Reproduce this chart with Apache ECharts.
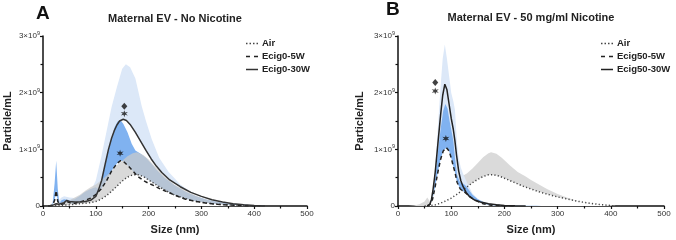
<!DOCTYPE html>
<html><head><meta charset="utf-8">
<script src="https://cdn.jsdelivr.net/npm/echarts@6/dist/echarts.min.js"></script>
<style>html,body{margin:0;padding:0;background:#fff}#c{width:676px;height:240px}</style>
</head><body><div id="c"></div>
<script>
// ---- axis ticks ----
const xTicks = [0, 100, 200, 300, 400, 500];
const yTicks = [0, 1, 2, 3]; // units of 1e9 particles/mL

// ---- Panel A (No Nicotine), values in 1e9 particles/mL ----
const aAirMean = [[10,0],[20,0.005],[30,0.01],[40,0.015],[50,0.02],[60,0.03],[70,0.04],[80,0.05],[90,0.06],[100,0.08],[110,0.12],[120,0.18],[130,0.26],[140,0.35],[150,0.44],[160,0.51],[170,0.55],[180,0.55],[190,0.52],[200,0.46],[210,0.4],[220,0.34],[235,0.26],[250,0.19],[260,0.16],[270,0.13],[280,0.1],[300,0.065],[320,0.04],[340,0.025],[360,0.014],[380,0.007],[400,0.002],[410,0]];
const aAirUpper = [[10,0],[20,0.02],[30,0.05],[40,0.08],[50,0.1],[60,0.15],[70,0.2],[80,0.27],[90,0.33],[100,0.38],[110,0.45],[120,0.53],[130,0.62],[140,0.72],[150,0.8],[160,0.88],[170,0.93],[178,0.95],[190,0.9],[200,0.82],[210,0.72],[220,0.62],[235,0.48],[250,0.37],[265,0.3],[280,0.22],[300,0.14],[320,0.09],[340,0.055],[360,0.03],[380,0.015],[400,0.005],[410,0]];
const a5wMean = [[10,0],[18,0.01],[22,0.1],[25,0.27],[28,0.08],[32,0.03],[40,0.04],[45,0.08],[50,0.06],[55,0.04],[60,0.05],[70,0.07],[80,0.1],[90,0.14],[100,0.2],[110,0.3],[120,0.44],[130,0.62],[140,0.75],[147,0.8],[152,0.79],[160,0.72],[170,0.62],[180,0.52],[190,0.45],[200,0.4],[210,0.36],[220,0.31],[235,0.25],[250,0.19],[270,0.12],[290,0.08],[310,0.05],[330,0.03],[350,0.018],[370,0.01],[390,0.004],[410,0]];
const a5wUpper = [[10,0],[18,0.02],[22,0.4],[25,0.8],[28,0.3],[31,0.05],[35,0.1],[40,0.12],[50,0.1],[60,0.12],[70,0.18],[80,0.25],[90,0.3],[100,0.33],[105,0.3],[111,0.44],[118,0.74],[124,0.99],[130,1.2],[136,1.4],[142,1.5],[148,1.5],[152,1.45],[160,1.3],[168,1.1],[175,0.98],[185,0.92],[195,0.85],[205,0.75],[215,0.64],[230,0.5],[250,0.36],[270,0.25],[290,0.17],[310,0.11],[330,0.07],[350,0.045],[370,0.03],[390,0.018],[410,0.008],[420,0]];
const a30wMean = [[10,0],[20,0.02],[25,0.04],[30,0.03],[40,0.06],[45,0.1],[50,0.08],[60,0.07],[70,0.07],[80,0.08],[90,0.1],[100,0.17],[105,0.28],[111,0.45],[118,0.75],[124,1.0],[130,1.2],[135,1.33],[140,1.43],[145,1.5],[152,1.53],[158,1.51],[165,1.44],[175,1.3],[185,1.14],[195,0.98],[205,0.83],[215,0.7],[225,0.59],[240,0.46],[260,0.34],[280,0.24],[300,0.17],[320,0.11],[340,0.07],[360,0.04],[380,0.02],[400,0.008],[420,0]];
const a30wUpper = [[10,0],[15,0.02],[20,0.1],[25,0.25],[30,0.1],[35,0.15],[40,0.17],[50,0.15],[60,0.14],[70,0.17],[80,0.2],[90,0.25],[100,0.45],[110,0.85],[120,1.3],[130,1.75],[140,2.1],[150,2.42],[157,2.5],[165,2.45],[175,2.25],[187,1.76],[195,1.5],[206,1.18],[220,0.85],[238,0.6],[260,0.38],[280,0.25],[300,0.17],[320,0.11],[340,0.07],[360,0.045],[380,0.025],[400,0.01],[420,0]];
const aDiamond = [[154,1.76]];
const aStars = [[154,1.63],[146,0.93]];

// ---- Panel B (50 mg/ml Nicotine) ----
const bAirMean = [[50,0],[60,0.005],[70,0.02],[80,0.05],[90,0.09],[100,0.14],[110,0.2],[120,0.27],[130,0.34],[140,0.41],[150,0.47],[160,0.52],[170,0.55],[180,0.55],[190,0.53],[200,0.49],[210,0.45],[220,0.41],[235,0.35],[250,0.3],[265,0.25],[280,0.21],[300,0.16],[320,0.12],[340,0.08],[360,0.05],[380,0.025],[400,0.008],[410,0]];
const bAirUpper = [[20,0],[30,0.01],[40,0.03],[50,0.08],[55,0.15],[60,0.08],[66,0.12],[75,0.22],[85,0.33],[98,0.42],[110,0.48],[120,0.52],[130,0.58],[140,0.66],[150,0.76],[160,0.86],[170,0.93],[175,0.95],[185,0.92],[195,0.85],[210,0.72],[225,0.6],[240,0.52],[250,0.46],[265,0.38],[280,0.3],[300,0.21],[320,0.14],[340,0.08],[360,0.045],[380,0.02],[400,0.005],[410,0]];
const b5wMean = [[55,0],[60,0.03],[65,0.12],[70,0.35],[75,0.6],[80,0.82],[85,0.97],[91,1.03],[96,0.97],[100,0.85],[104,0.7],[107,0.6],[111,0.42],[117,0.3],[121,0.27],[126,0.24],[132,0.19],[140,0.13],[148,0.09],[160,0.04],[175,0.015],[200,0.005],[220,0]];
const b5wUpper = [[55,0],[60,0.03],[65,0.15],[70,0.5],[75,0.95],[80,1.35],[85,1.68],[89,1.8],[93,1.72],[97,1.5],[101,1.3],[104,1.15],[107,0.85],[111,0.55],[116,0.43],[121,0.4],[126,0.37],[132,0.3],[140,0.2],[150,0.12],[160,0.07],[170,0.04],[180,0.025],[200,0.012],[230,0.006],[260,0.003],[270,0]];
const b30wMean = [[55,0],[60,0.03],[63,0.12],[66,0.3],[70,0.6],[75,1.1],[80,1.6],[84,1.95],[88,2.15],[92,2.05],[96,1.8],[100,1.55],[104,1.35],[107,1.15],[110,0.9],[114,0.62],[118,0.45],[122,0.35],[128,0.24],[135,0.16],[145,0.1],[155,0.07],[170,0.04],[185,0.02],[200,0.01],[220,0.003],[240,0]];
const b30wUpper = [[55,0],[60,0.05],[65,0.2],[70,0.7],[75,1.4],[80,2.1],[84,2.6],[88,2.85],[92,2.6],[96,2.3],[100,2.0],[104,1.85],[107,1.7],[109,1.4],[111,1.1],[114,0.85],[118,0.68],[122,0.58],[128,0.45],[134,0.33],[140,0.22],[150,0.13],[160,0.08],[170,0.05],[180,0.03],[200,0.012],[220,0.004],[240,0]];
const bDiamond = [[70,2.18]];
const bStars = [[70,2.03],[90,1.19]];

const FONT = '"Liberation Sans", Arial, sans-serif';
const LIGHT_BLUE = '#dce8f8', MED_BLUE = '#80b2f0', GRAY = 'rgba(202,202,202,0.72)';
const STAR = 'path://M5,0L6,3.27L9.33,2.5L7,5L9.33,7.5L6,6.73L5,10L4,6.73L0.67,7.5L3,5L0.67,2.5L4,3.27Z';
const ICON_DOT = 'path://M0,0h1.5v1.5h-1.5zM3.5,0h1.5v1.5h-1.5zM7,0h1.5v1.5h-1.5zM10.5,0h1.5v1.5h-1.5z';
const ICON_DASH = 'path://M0,0h4v1.5h-4zM8,0h4v1.5h-4z';
const ICON_SOLID = 'path://M0,0h12v1.5h-12z';

function fill(data, color, idx) {
  return {type:'line', data, xAxisIndex:idx, yAxisIndex:idx, symbol:'none', silent:true,
    lineStyle:{width:0, color}, areaStyle:{color, opacity:1}, itemStyle:{color}, legendHoverLink:false};
}
function line(name, data, type, idx, color) {
  return {type:'line', name, data, xAxisIndex:idx, yAxisIndex:idx, symbol:'none', z:5,
    lineStyle:{width:1.5, type, color}, itemStyle:{color}};
}
function marks(data, symbol, size, idx) {
  return {type:'scatter', data, xAxisIndex:idx, yAxisIndex:idx, symbol, symbolSize:size, z:6,
    itemStyle:{color:'#111'}};
}
function xAx(idx) {
  return {type:'value', gridIndex:idx, min:xTicks[0], max:xTicks[xTicks.length-1], interval:xTicks[1]-xTicks[0],
    axisLine:{show:true, onZero:false, lineStyle:{color:'#111', width:1.5}},
    axisTick:{show:true, length:3, lineStyle:{color:'#111', width:1.2}},
    minorTick:{show:true, splitNumber:2, length:2.5, lineStyle:{color:'#111', width:1.2}},
    splitLine:{show:false},
    axisLabel:{fontSize:8, color:'#333', margin:4, fontFamily:FONT},
    name:'Size (nm)', nameLocation:'middle', nameGap:18,
    nameTextStyle:{fontSize:11, fontWeight:'bold', color:'#222', fontFamily:FONT}};
}
function yAx(idx, gap) {
  return {type:'value', gridIndex:idx, min:yTicks[0], max:yTicks[yTicks.length-1], interval:yTicks[1]-yTicks[0],
    axisLine:{show:true, onZero:false, lineStyle:{color:'#111', width:1.5}},
    axisTick:{show:true, length:3, lineStyle:{color:'#111', width:1.2}},
    minorTick:{show:true, splitNumber:2, length:2.5, lineStyle:{color:'#111', width:1.2}},
    splitLine:{show:false},
    axisLabel:{margin:3, fontFamily:FONT,
      formatter: v => v === 0 ? '{b|0}' : '{b|' + v + '×10}{s|9}',
      rich:{b:{fontSize:8, color:'#333', fontFamily:FONT}, s:{fontSize:5.5, color:'#333', fontFamily:FONT, padding:[0,0,5,0]}}},
    name:'Particle/mL', nameLocation:'middle', nameGap:gap,
    nameTextStyle:{fontSize:11, fontWeight:'bold', color:'#222', fontFamily:FONT}};
}
function legend(left, names) {
  return {data:[{name:names[0], icon:ICON_DOT}, {name:names[1], icon:ICON_DASH}, {name:names[2], icon:ICON_SOLID}],
    orient:'vertical', left, top:38, itemWidth:12, itemHeight:1.5, itemGap:2, padding:0,
    textStyle:{fontSize:9.5, fontWeight:'bold', color:'#222', fontFamily:FONT, padding:[0,0,0,-1], lineHeight:11}};
}

const chart = echarts.init(document.getElementById('c'), null, {renderer:'canvas'});
chart.setOption({
  animation:false,
  backgroundColor:'#fff',
  grid:[{left:43, top:36, width:264, height:171}, {left:398, top:36, width:266, height:171}],
  xAxis:[xAx(0), xAx(1)],
  yAxis:[yAx(0, 30), yAx(1, 33)],
  legend:[legend(246, ['Air','Ecig0-5W','Ecig0-30W']), legend(601, ['Air ','Ecig50-5W','Ecig50-30W'])],
  graphic:[
    {type:'text', left:36, top:4, style:{text:'A', font:'bold 19px '+FONT, fill:'#111'}},
    {type:'text', left:386, top:0, style:{text:'B', font:'bold 19px '+FONT, fill:'#111'}},
    {type:'text', x:175, y:19, style:{text:'Maternal EV - No Nicotine', font:'bold 11px '+FONT, fill:'#222', textAlign:'center', textVerticalAlign:'middle'}},
    {type:'text', x:531, y:18, style:{text:'Maternal EV - 50 mg/ml Nicotine', font:'bold 11px '+FONT, fill:'#222', textAlign:'center', textVerticalAlign:'middle'}}
  ],
  series:[
    // Panel A fills
    fill(a30wUpper, LIGHT_BLUE, 0),
    fill(a30wMean, '#ffffff', 0),
    fill(a5wUpper, MED_BLUE, 0),
    fill(a5wMean, '#ffffff', 0),
    fill(aAirUpper, GRAY, 0),
    fill(aAirMean, '#ffffff', 0),
    line('Air', aAirMean, [1.2,2.2], 0, '#444'),
    line('Ecig0-5W', a5wMean, [4,3], 0, '#222'),
    line('Ecig0-30W', a30wMean, 'solid', 0, '#333'),
    marks(aDiamond, 'diamond', [6,7], 0),
    marks(aStars, STAR, 7, 0),
    // Panel B fills
    fill(bAirUpper, '#dadada', 1),
    fill(bAirMean, '#ffffff', 1),
    fill(b30wUpper, LIGHT_BLUE, 1),
    fill(b5wUpper, MED_BLUE, 1),
    fill(b5wMean, '#ffffff', 1),
    line('Air ', bAirMean, [1.2,2.2], 1, '#444'),
    line('Ecig50-5W', b5wMean, [4,3], 1, '#222'),
    line('Ecig50-30W', b30wMean, 'solid', 1, '#222'),
    marks(bDiamond, 'diamond', [6,7], 1),
    marks(bStars, STAR, 7, 1)
  ]
});
</script></body></html>
